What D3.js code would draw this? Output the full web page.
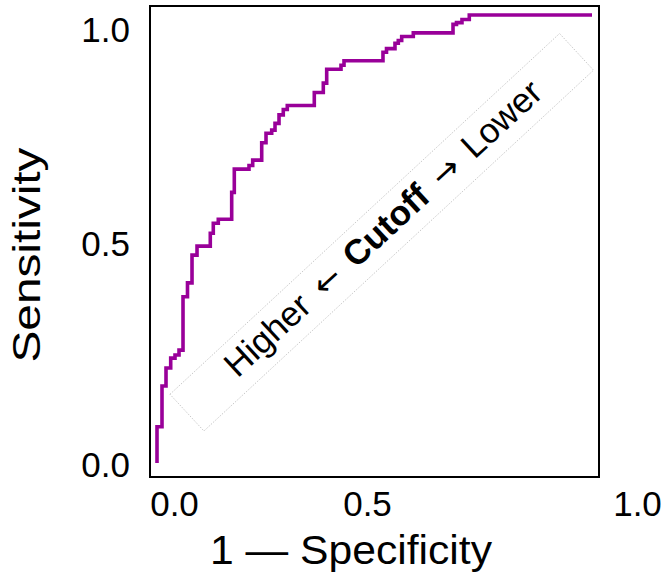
<!DOCTYPE html>
<html>
<head>
<meta charset="utf-8">
<script src="https://cdn.jsdelivr.net/npm/d3@7"></script>
<style>
  html, body { margin: 0; padding: 0; background: #fff; }
  svg { display: block; font-family: "Liberation Sans", Arial, Helvetica, sans-serif; }
</style>
</head>
<body>
<svg id="chart" width="667" height="584"></svg>
<script>
// ROC curve corner points (top of each vertical step)
const fpr = [0, 0, 0.0115, 0.0207, 0.0315, 0.0414, 0.0506, 0.0598, 0.0701, 0.0805, 0.092,
  0.1225, 0.1294, 0.1409, 0.1717, 0.1777, 0.2115, 0.22, 0.2407, 0.2506, 0.2637, 0.2713,
  0.2805, 0.2903, 0.2995, 0.3616, 0.3823, 0.3901, 0.423, 0.4299, 0.5195, 0.5276, 0.5471,
  0.5547, 0.5625, 0.5892, 0.6805, 0.6885, 0.7011, 0.7179, 1.0];
const tpr = [0, 0.081, 0.172, 0.212, 0.234, 0.241, 0.252, 0.371, 0.402, 0.464, 0.484,
  0.513, 0.535, 0.544, 0.604, 0.656, 0.664, 0.676, 0.715, 0.736, 0.743, 0.758,
  0.777, 0.789, 0.798, 0.827, 0.848, 0.879, 0.888, 0.898, 0.917, 0.925, 0.937,
  0.943, 0.952, 0.960, 0.979, 0.983, 0.990, 1.0, 1.0];
const tickValues = [0, 0.5, 1];
const tickLabels = ["0.0", "0.5", "1.0"];
const xTitle = "1 \u2014 Specificity";
const yTitle = "Sensitivity";
const annotParts = [
  { text: "Higher", kind: "normal" },
  { text: " ", kind: "space" },
  { text: "\u2190", kind: "arrow" },
  { text: " ", kind: "space" },
  { text: "Cutoff", kind: "bold" },
  { text: " ", kind: "space" },
  { text: "\u2192", kind: "arrow" },
  { text: " ", kind: "space" },
  { text: "Lower", kind: "normal" }
];

const svg = d3.select("#chart");
const data = fpr.map((f, i) => ({ x: f, y: tpr[i] }));

// data scales
const x = d3.scaleLinear().domain([0, 1]).range([157, 592]);
const y = d3.scaleLinear().domain([0, 1]).range([463, 15]);
// label placement scales (tick labels sit where the picture has them)
const xLab = d3.scaleLinear().domain([0, 0.5, 1]).range([174, 367, 637]);
const yLab = d3.scaleLinear().domain([0, 0.5, 1]).range([465, 244, 30]);

// frame
svg.append("rect")
  .attr("x", 150).attr("y", 6).attr("width", 449).attr("height", 471)
  .attr("fill", "none").attr("stroke", "#000").attr("stroke-width", 2);

// annotation box
const ann = svg.append("g").attr("transform", "translate(381.75,232.25) rotate(-42.8)");
ann.append("rect")
  .attr("x", -265.5).attr("y", -25).attr("width", 531).attr("height", 50)
  .attr("fill", "none").attr("stroke", "#b5b5b5").attr("stroke-width", 0.7)
  .attr("stroke-dasharray", "1.5,1.5");

const annText = svg.append("text")
  .attr("transform", "translate(391,237) rotate(-42.7)")
  .attr("text-anchor", "middle")
  .attr("font-size", 35)
  .attr("fill", "#000")
  .attr("style", "white-space: pre");
annotParts.forEach(p => {
  const t = annText.append("tspan").text(p.text);
  if (p.kind === "bold") t.attr("font-weight", "bold");
  if (p.kind === "space") t.attr("font-size", 55);
  if (p.kind === "arrow") t.attr("font-family", "'DejaVu Sans', sans-serif").attr("font-size", 33);
});

// ROC line
const line = d3.line().x(d => x(d.x)).y(d => y(d.y)).curve(d3.curveStepAfter);
svg.append("path")
  .datum(data)
  .attr("d", line)
  .attr("fill", "none")
  .attr("stroke", "#990099")
  .attr("stroke-width", 3.6)
  .attr("stroke-linejoin", "miter")
  .attr("stroke-linecap", "butt");

// axes (labels only)
const fmt = (d) => tickLabels[tickValues.indexOf(d)];
const gx = svg.append("g").attr("transform", "translate(0,491)")
  .call(d3.axisBottom(xLab).tickValues(tickValues).tickFormat(fmt).tickSize(0).tickPadding(0));
gx.select(".domain").remove();
gx.selectAll("text").attr("font-size", 35).attr("font-family", null).attr("fill", "#000");

const gy = svg.append("g").attr("transform", "translate(130,0)")
  .call(d3.axisLeft(yLab).tickValues(tickValues).tickFormat(fmt).tickSize(0).tickPadding(0));
gy.select(".domain").remove();
gy.selectAll("text").attr("font-size", 35).attr("font-family", null).attr("fill", "#000");

// titles
svg.append("text")
  .attr("x", 351).attr("y", 564)
  .attr("text-anchor", "middle")
  .attr("font-size", 40)
  .attr("textLength", 282).attr("lengthAdjust", "spacingAndGlyphs")
  .text(xTitle);

svg.append("text")
  .attr("transform", "translate(40,255) rotate(-90)")
  .attr("text-anchor", "middle")
  .attr("font-size", 38)
  .attr("textLength", 215).attr("lengthAdjust", "spacingAndGlyphs")
  .text(yTitle);
</script>
</body>
</html>
